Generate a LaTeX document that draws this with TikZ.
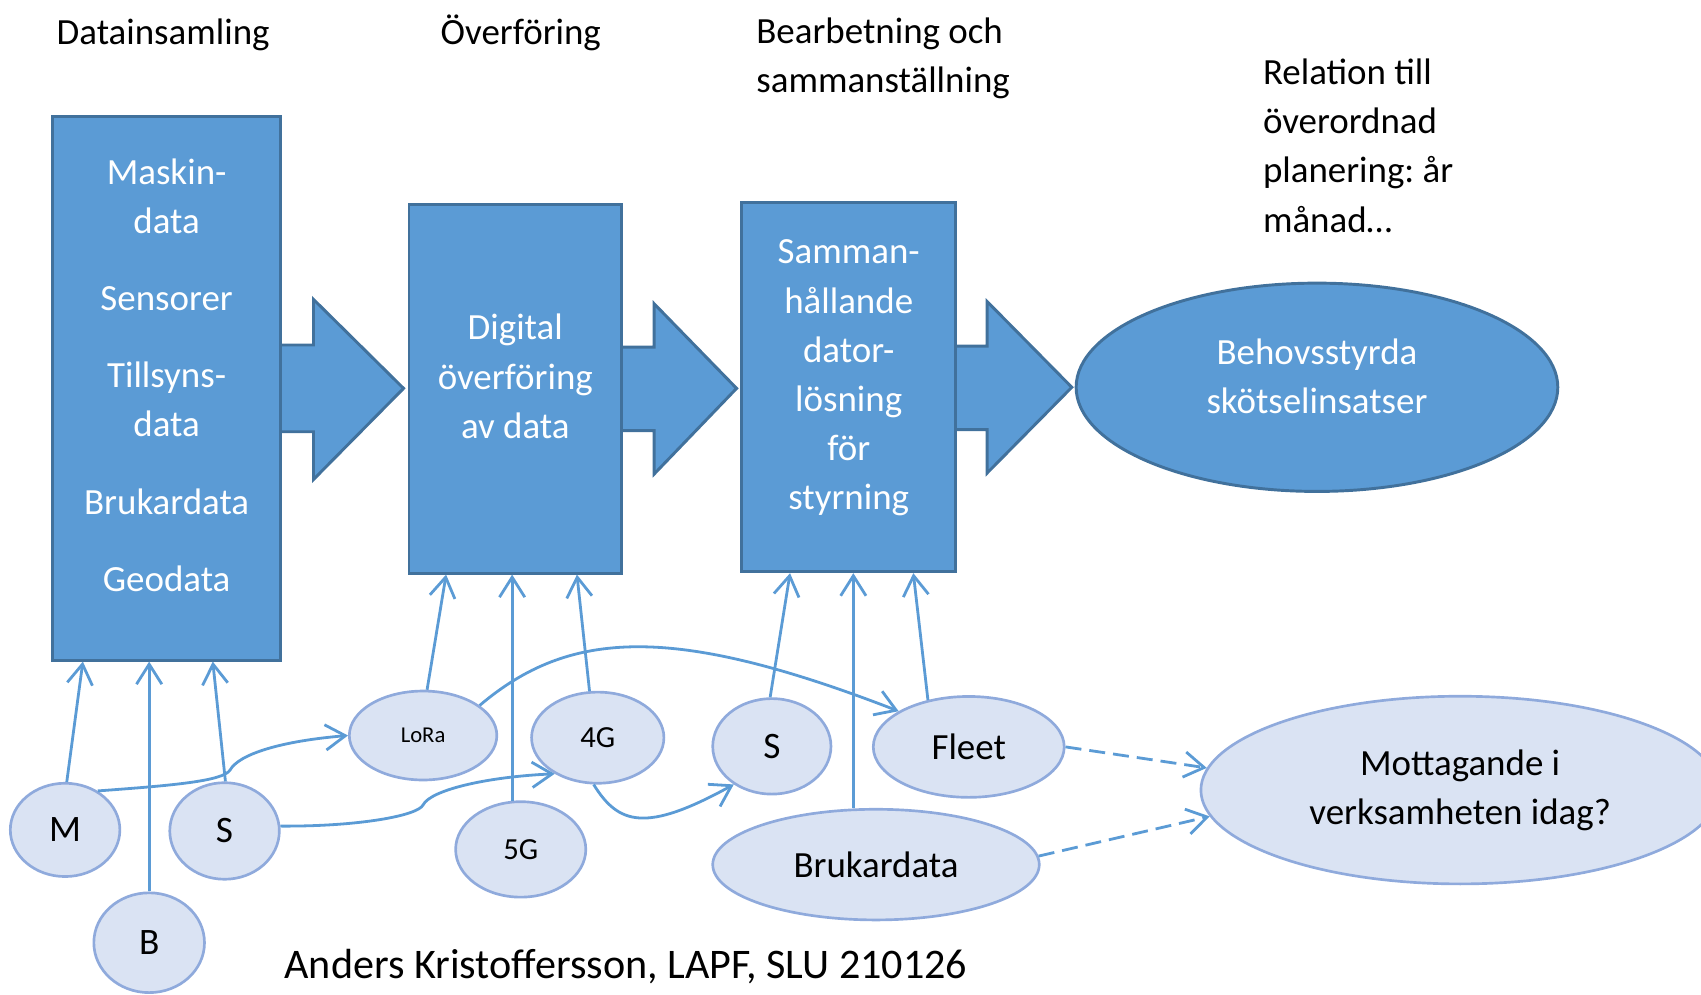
\documentclass[tikz,border=0pt]{standalone}
\usepackage{fontspec}
\setmainfont{Carlito}
\usetikzlibrary{arrows.meta,shapes.geometric,calc}
\definecolor{boxfill}{HTML}{5B9BD5}
\definecolor{boxline}{HTML}{41719C}
\definecolor{lfill}{HTML}{DAE3F3}
\definecolor{lline}{HTML}{8FAADC}
\definecolor{conncol}{HTML}{5B9BD5}
\def\pu{0.8136pt}
\newcommand{\fs}[1]{\fontsize{#1}{1.33\dimexpr#1\relax}\selectfont}
\frenchspacing
\begin{document}
\begin{tikzpicture}[x=0.8136pt,y=-0.8136pt,
  font=\fontsize{27.7pt}{36.9pt}\selectfont,
  bigbox/.style={draw=boxline, line width=2.2pt, fill=boxfill, inner sep=0pt},
  boxtext/.style={text=white, align=center, inner sep=0pt},
  bigarrow/.style={draw=boxline, line width=2.2pt, fill=boxfill, line join=miter},
  lell/.style={ellipse, draw=lline, fill=lfill, line width=2pt, inner sep=0pt, align=center},
  conn/.style={draw=conncol, line width=2.1pt, -{Straight Barb[length=15pt,width=19pt]}},
  dconn/.style={conn, dash pattern=on 12pt off 6pt},
  title/.style={anchor=base west, inner sep=0pt, align=left},
]
\useasboundingbox (0,0) rectangle (1568,917);

% titles (anchor = baseline of the last line)
\node[title] (t1) at (52,41) {Datainsamling};
\node[title] (t2) at (406,41) {Överföring};
\node[title] (t3) at (697,85) {Bearbetning och\\sammanställning};
\node[title] (t4) at (1164,214) {Relation till\\överordnad\\planering: år\\månad\dots};

% block arrows (behind boxes)
\path[bigarrow] (258,318) -- (289,318) -- (289,276) -- (372,358) -- (289,442) -- (289,398) -- (258,398);
\path[bigarrow] (573,320) -- (603,320) -- (603,280) -- (679,358) -- (603,437) -- (603,397) -- (573,397);
\path[bigarrow] (880,319) -- (910,319) -- (910,278) -- (988,357) -- (910,436) -- (910,396) -- (880,396);

% boxes
\node[bigbox, minimum width=210*\pu, minimum height=501*\pu] (b1) at (153.6,358) {};
\node[bigbox, minimum width=196*\pu, minimum height=340*\pu] (b2) at (475,358.3) {};
\node[bigbox, minimum width=197*\pu, minimum height=340*\pu] (b3) at (782.4,357) {};

\node[boxtext, anchor=base] (b1t) at (153.6,545) {Maskin-\\data\\[21pt]Sensorer\\[21pt]Tillsyns-\\data\\[21pt]Brukardata\\[21pt]Geodata};
\node[boxtext, anchor=base] (b2t) at (475,404) {Digital\\överföring\\av data};
\node[boxtext, anchor=base] (b3t) at (782.4,470) {Samman-\\hållande\\dator-\\lösning\\för\\styrning};

% big ellipse
\node[ellipse, draw=boxline, fill=boxfill, line width=2.2pt, inner sep=0pt,
  minimum width=444*\pu, minimum height=192*\pu] (behov) at (1214,357) {};
\node[boxtext] (behovt) at ([yshift=8pt]behov.center) {Behovsstyrda\\skötselinsatser};

% small ellipses
\node[lell, minimum width=101*\pu, minimum height=86*\pu, font=\fs{28pt}] (M) at (60,765) {M};
\node[lell, minimum width=101*\pu, minimum height=89*\pu, font=\fs{28pt}] (S1) at (207,766) {S};
\node[lell, minimum width=102*\pu, minimum height=92*\pu, font=\fs{28pt}] (B) at (137.5,869) {B};
\node[lell, minimum width=136*\pu, minimum height=82*\pu, font=\fs{17pt}] (lora) at (390,678) {LoRa};
\node[lell, minimum width=122*\pu, minimum height=84*\pu, font=\fs{23pt}] (g4) at (551,680) {4G};
\node[lell, minimum width=120*\pu, minimum height=88*\pu, font=\fs{23pt}] (g5) at (480,783) {5G};
\node[lell, minimum width=109*\pu, minimum height=88*\pu, font=\fs{28pt}] (S2) at (711.5,688) {S};
\node[lell, minimum width=176*\pu, minimum height=93*\pu] (fleet) at (893,688.5) {Fleet};
\node[lell, minimum width=301*\pu, minimum height=102*\pu] (bruk) at (807.5,797) {Brukardata};
\node[lell, minimum width=478*\pu, minimum height=173*\pu] (mott) at (1346,728.3) {Mottagande i\\verksamheten idag?};

% footer
\node[title, font=\fs{31.6pt}] (foot) at (262,902) {Anders Kristoffersson, LAPF, SLU 210126};

% connectors to box 1
\draw[conn] (M.88) -- ($(b1.south west)!0.137!(b1.south east)$);
\draw[conn] (B.north) -- (B.north |- b1.south);
\draw[conn] (S1.89) -- ($(b1.south west)!0.70!(b1.south east)$);
% connectors to box 2
\draw[conn] (lora.85) -- ($(b2.south west)!0.179!(b2.south east)$);
\draw[conn] (g5.100) -- (g5.100 |- b2.south);
\draw[conn] (g4.100) -- ($(b2.south west)!0.786!(b2.south east)$);
% connectors to box 3
\draw[conn] (S2.92) -- ($(b3.south west)!0.229!(b3.south east)$);
\draw[conn] (bruk.112) -- (bruk.112 |- b3.south);
\draw[conn] (fleet.131) -- ($(b3.south west)!0.798!(b3.south east)$);

% curved connectors
\draw[conn] (M.50) .. controls (160,724) and (205,720) .. (212,710) .. controls (220,695) and (260,683) .. (lora.west);
\draw[conn] (S1.5) .. controls (330,762) and (385,752) .. (390,742) .. controls (397,728) and (450,716) .. (g4.220);
\draw[conn] (lora.28) .. controls (525,580) and (620,575) .. (fleet.153);
\draw[conn] (g4.265) .. controls (570,760) and (595,768) .. (S2.225);

% dashed
\draw[dconn] (fleet.east) -- (mott.175);
\draw[dconn] (bruk.3) -- (mott.186);
\end{tikzpicture}
\end{document}
